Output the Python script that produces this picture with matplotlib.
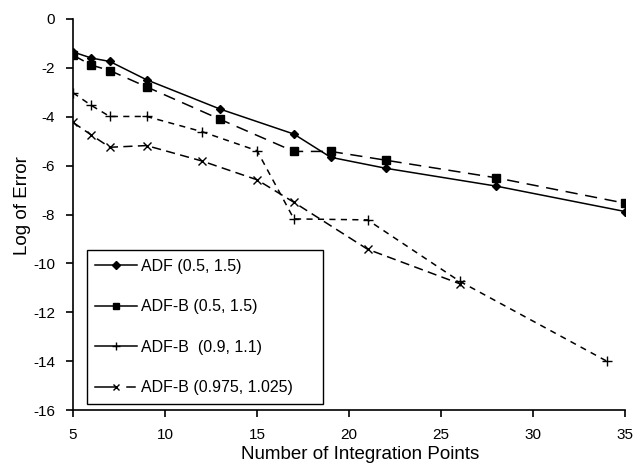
import matplotlib
matplotlib.use("Agg")
import matplotlib.pyplot as plt
from matplotlib.lines import Line2D
from matplotlib.legend_handler import HandlerBase

plt.rcParams['font.family'] = ['Liberation Sans', 'DejaVu Sans']

# Data
x_adf = [5, 6, 7, 9, 13, 17, 19, 22, 28, 35]
y_adf = [-1.35, -1.60, -1.74, -2.49, -3.69, -4.71, -5.66, -6.11, -6.84, -7.88]

x_adfb1 = [5, 6, 7, 9, 13, 17, 19, 22, 28, 35]
y_adfb1 = [-1.48, -1.89, -2.11, -2.78, -4.11, -5.42, -5.42, -5.78, -6.50, -7.54]

x_adfb2 = [5, 6, 7, 9, 12, 15, 17, 21, 26, 34]
y_adfb2 = [-3.02, -3.54, -3.99, -3.99, -4.61, -5.39, -8.18, -8.22, -10.73, -14.0]

x_adfb3 = [5, 6, 7, 9, 12, 15, 17, 21, 26]
y_adfb3 = [-4.23, -4.75, -5.25, -5.18, -5.81, -6.58, -7.50, -9.42, -10.83]

labels = ["ADF (0.5, 1.5)", "ADF-B (0.5, 1.5)", "ADF-B  (0.9, 1.1)", "ADF-B (0.975, 1.025)"]
xticks = [5, 10, 15, 20, 25, 30, 35]
yticks = [0, -2, -4, -6, -8, -10, -12, -14, -16]

fig = plt.figure(figsize=(6.4, 4.73), dpi=100)
ax = fig.add_axes([0.114, 0.133, 0.863, 0.827])

lw = 1.1
ax.plot(x_adf, y_adf, color='k', lw=lw, ls='-', marker='D', ms=4.5)
ax.plot(x_adfb1, y_adfb1, color='k', lw=lw, ls=(0, (8, 5)), marker='s', ms=6)
ax.plot(x_adfb2, y_adfb2, color='k', lw=lw, ls=(0, (4, 3.5)), marker='+', ms=6.5, mew=1)
ax.plot(x_adfb3, y_adfb3, color='k', lw=lw, ls=(0, (6, 3.5)), marker='x', ms=6, mew=1)

ax.set_xlim(5, 35)
ax.set_ylim(-16, 0)
ax.set_xticks(xticks)
ax.set_yticks(yticks)
ax.set_xticklabels([str(t) for t in xticks])
ax.set_yticklabels([str(t) for t in yticks])
ax.spines['top'].set_visible(False)
ax.spines['right'].set_visible(False)
for s in ('left', 'bottom'):
    ax.spines[s].set_linewidth(1.2)
ax.tick_params(direction='out', length=5, width=1.2, labelsize=11, pad=8)
ax.set_xlabel("Number of Integration Points", fontsize=13.5)
ax.set_ylabel("Log of Error", fontsize=13.5)
ax.xaxis.set_label_coords(0.52, -0.092)
ax.yaxis.set_label_coords(-0.076, 0.524)


class SplitHandler(HandlerBase):
    def create_artists(self, legend, orig_handle, xdescent, ydescent,
                       width, height, fontsize, trans):
        y = height / 2 - ydescent
        x0 = -xdescent
        x1 = x0 + width
        xm = x0 + width / 2
        l1 = Line2D([x0, xm], [y, y], color='k', lw=lw, ls='-', transform=trans)
        l2 = Line2D([xm + width * 0.25, x1 - width * 0.05], [y, y], color='k', lw=lw,
                    ls='-', transform=trans)
        m = Line2D([xm], [y], color='k', marker='x', ms=5, mew=1,
                   ls='none', transform=trans)
        return [l1, l2, m]


h1 = Line2D([], [], color='k', lw=lw, marker='D', ms=4)
h2 = Line2D([], [], color='k', lw=lw, marker='s', ms=5)
h3 = Line2D([], [], color='k', lw=lw, marker='+', ms=6, mew=1)
h4 = Line2D([], [], color='k', lw=lw, marker='x', ms=5)

leg = fig.legend([h1, h2, h3, h4], labels, loc='lower left',
                 bbox_to_anchor=(86.7 / 640, (473 - 404) / 473, 236 / 640, 0.3),
                 mode='expand', fontsize=11.5, labelspacing=1.6,
                 handlelength=2.6, handletextpad=0.25, borderpad=0.55,
                 fancybox=False, edgecolor='k', framealpha=1,
                 borderaxespad=0, handler_map={h4: SplitHandler()})
leg.get_frame().set_linewidth(1.0)

fig.savefig("out.png", dpi=100)
